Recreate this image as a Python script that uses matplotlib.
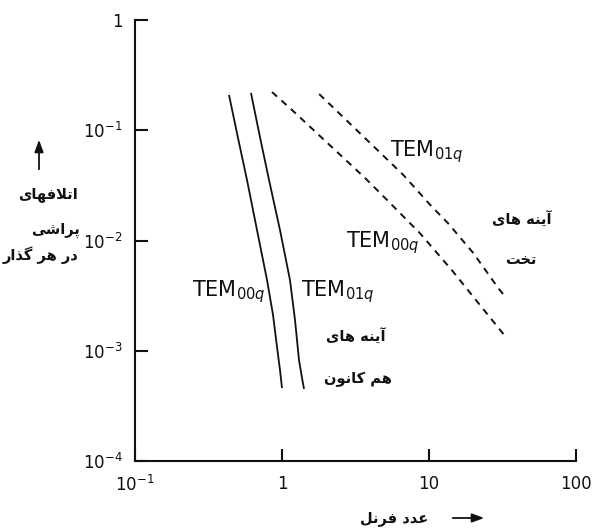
import matplotlib
matplotlib.use("Agg")
import matplotlib.pyplot as plt
from matplotlib.patches import FancyArrowPatch
from matplotlib.ticker import FixedLocator, FixedFormatter, NullLocator

# ---- data: diffraction loss per pass vs. Fresnel number ----
# confocal mirrors (solid curves)
fresnel_conf_00 = [0.436, 0.502, 0.578, 0.676, 0.791, 0.869, 0.925, 0.969, 1.0]
loss_conf_00 = [0.209, 0.0851, 0.0354, 0.01245, 0.00438, 0.00211, 0.00108, 6.69e-4, 4.59e-4]
fresnel_conf_01 = [0.615, 0.708, 0.816, 0.969, 1.133, 1.226, 1.305, 1.368, 1.412]
loss_conf_01 = [0.218, 0.0869, 0.0354, 0.01245, 0.00438, 0.0019, 8.24e-4, 5.66e-4, 4.5e-4]

# plane mirrors (dashed curves)
fresnel_plane_00 = [0.855, 1.17, 3.67, 4.79, 8.69, 14.27, 22.2, 32.9]
loss_plane_00 = [0.222, 0.1527, 0.0369, 0.0259, 0.01162, 0.0054, 0.0026, 0.00136]
fresnel_plane_01 = [1.79, 6.69, 10.2, 13.5, 20.0, 29.6, 32.9]
loss_plane_01 = [0.213, 0.0393, 0.021, 0.0143, 0.0077, 0.0037, 0.0031]

x_ticks = [0.1, 1, 10, 100]
x_ticklabels = [r"$\mathregular{10^{-1}}$", "1", "10", "100"]
y_ticks = [1e-4, 1e-3, 1e-2, 1e-1, 1]
y_ticklabels = [r"$\mathregular{10^{-4}}$", r"$\mathregular{10^{-3}}$",
                r"$\mathregular{10^{-2}}$", r"$\mathregular{10^{-1}}$", "1"]

label_00 = r"TEM$_{\mathregular{00}q}$"
label_01 = r"TEM$_{\mathregular{01}q}$"

ylabel_lines = ["اتلافهای", "پراشی", "در هر گذار"]
xlabel_text = "عدد فرنل"
plane_text = ["آینه های", "تخت"]
confocal_text = ["آینه های", "هم کانون"]

# ---- minimal Persian shaping (contextual forms + right-to-left order) ----
FORMS = {
    "ا": ("\uFE8D", "\uFE8E", None, None),
    "آ": ("\uFE81", "\uFE82", None, None),
    "د": ("\uFEA9", "\uFEAA", None, None),
    "ذ": ("\uFEAB", "\uFEAC", None, None),
    "ر": ("\uFEAD", "\uFEAE", None, None),
    "و": ("\uFEED", "\uFEEE", None, None),
    "لا": ("\uFEFB", "\uFEFC", None, None),
    "ت": ("\uFE95", "\uFE96", "\uFE97", "\uFE98"),
    "ل": ("\uFEDD", "\uFEDE", "\uFEDF", "\uFEE0"),
    "ف": ("\uFED1", "\uFED2", "\uFED3", "\uFED4"),
    "ه": ("\uFEE9", "\uFEEA", "\uFEEB", "\uFEEC"),
    "ی": ("\uFBFC", "\uFBFD", "\uFBFE", "\uFBFF"),
    "پ": ("\uFB56", "\uFB57", "\uFB58", "\uFB59"),
    "ش": ("\uFEB5", "\uFEB6", "\uFEB7", "\uFEB8"),
    "گ": ("\uFB92", "\uFB93", "\uFB94", "\uFB95"),
    "ن": ("\uFEE5", "\uFEE6", "\uFEE7", "\uFEE8"),
    "خ": ("\uFEA5", "\uFEA6", "\uFEA7", "\uFEA8"),
    "م": ("\uFEE1", "\uFEE2", "\uFEE3", "\uFEE4"),
    "ک": ("\uFB8E", "\uFB8F", "\uFB90", "\uFB91"),
    "ع": ("\uFEC9", "\uFECA", "\uFECB", "\uFECC"),
}


def shape(text):
    tokens = []
    i = 0
    while i < len(text):
        if text[i] == "ل" and i + 1 < len(text) and text[i + 1] == "ا":
            tokens.append("لا")
            i += 2
        else:
            tokens.append(text[i])
            i += 1
    out = []
    for j, t in enumerate(tokens):
        f = FORMS.get(t)
        if f is None:
            out.append(t)
            continue
        prev = FORMS.get(tokens[j - 1]) if j > 0 else None
        nxt = FORMS.get(tokens[j + 1]) if j + 1 < len(tokens) else None
        join_prev = prev is not None and prev[2] is not None
        join_next = nxt is not None and f[2] is not None
        if join_prev and join_next:
            out.append(f[3])
        elif join_prev:
            out.append(f[1])
        elif join_next:
            out.append(f[2])
        else:
            out.append(f[0])
    return "".join(reversed(out))


W, H = 598, 529
fig = plt.figure(figsize=(W / 100, H / 100), dpi=100)
plt.rcParams["mathtext.fontset"] = "dejavusans"

# axes box in pixels: x 135..576, y 20..461
ax = fig.add_axes([135 / W, 1 - 461 / H, (576 - 135) / W, (461 - 20) / H])
ax.set_xscale("log")
ax.set_yscale("log")
ax.set_xlim(0.1, 100)
ax.set_ylim(1e-4, 1)

ink = "#111111"
ax.plot(fresnel_conf_00, loss_conf_00, color=ink, lw=1.3, solid_capstyle="butt")
ax.plot(fresnel_conf_01, loss_conf_01, color=ink, lw=1.3, solid_capstyle="butt")
ax.plot(fresnel_plane_00, loss_plane_00, color=ink, lw=1.4, dashes=(3.5, 3.0))
ax.plot(fresnel_plane_01, loss_plane_01, color=ink, lw=1.4, dashes=(3.5, 3.0))

for side in ("top", "right"):
    ax.spines[side].set_visible(False)
for side in ("left", "bottom"):
    ax.spines[side].set_linewidth(1.5)
    ax.spines[side].set_color(ink)

ax.xaxis.set_major_locator(FixedLocator(x_ticks))
ax.xaxis.set_major_formatter(FixedFormatter(x_ticklabels))
ax.yaxis.set_major_locator(FixedLocator(y_ticks))
ax.yaxis.set_major_formatter(FixedFormatter(y_ticklabels))
ax.xaxis.set_minor_locator(NullLocator())
ax.yaxis.set_minor_locator(NullLocator())
ax.tick_params(axis="both", which="major", direction="in", length=9,
               width=1.5, color=ink, labelsize=12, labelcolor=ink)
ax.tick_params(axis="x", pad=10)
ax.tick_params(axis="y", pad=9)

# mode labels
tem_kw = dict(fontsize=15, color=ink, ha="left", va="baseline")
ax.text(5.43, 0.0584, label_01, **tem_kw)
ax.text(2.72, 0.00873, label_00, **tem_kw)
ax.text(0.244, 0.00309, label_00, **tem_kw)
ax.text(1.338, 0.00309, label_01, **tem_kw)

fa_kw = dict(fontsize=10.5, fontweight="bold", color=ink, family="DejaVu Sans",
             ha="center", va="center")


def ftext(px, py, s, **kw):
    fig.text(px / W, 1 - py / H, shape(s), **kw)


ftext(522, 220, plane_text[0], **fa_kw)
ftext(521, 259, plane_text[1], **fa_kw)
ftext(356, 337, confocal_text[0], **fa_kw)
ftext(358, 379, confocal_text[1], **fa_kw)

ya_kw = dict(fa_kw, ha="right")
ftext(78, 195, ylabel_lines[0], **ya_kw)
ftext(80, 230, ylabel_lines[1], **ya_kw)
ftext(78, 255, ylabel_lines[2], **ya_kw)

ftext(394, 519, xlabel_text, **fa_kw)

arrow_kw = dict(arrowstyle="-|>,head_length=0.6,head_width=0.22", color=ink, lw=1.3)
fig.add_artist(FancyArrowPatch(
    (39 / W, 1 - 172 / H), (39 / W, 1 - 137 / H),
    transform=fig.transFigure, mutation_scale=12, **arrow_kw))
fig.add_artist(FancyArrowPatch(
    (450 / W, 1 - 518 / H), (487 / W, 1 - 518 / H),
    transform=fig.transFigure, mutation_scale=12, **arrow_kw))

fig.savefig("out.png", dpi=100, facecolor="white")
